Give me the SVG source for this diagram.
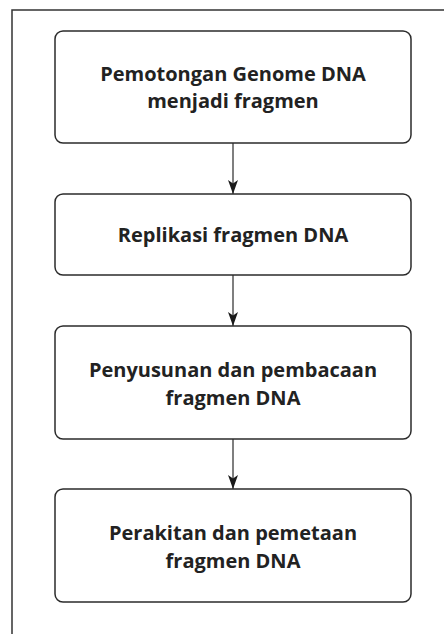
<svg xmlns="http://www.w3.org/2000/svg" width="444" height="634" viewBox="0 0 444 634">
  <style>
    .box { fill: #ffffff; stroke: #2b2b2b; stroke-width: 1.5; }
    .lbl { font-family: "Open Sans", "Liberation Sans", sans-serif; font-weight: bold; font-size: 20px; fill: #222222; text-anchor: middle; }
    .conn { stroke: #555555; stroke-width: 1.5; fill: none; marker-end: url(#arr); }
  </style>
  <defs>
    <marker id="arr" viewBox="0 0 14 10" refX="14" refY="5" markerWidth="14" markerHeight="10" markerUnits="userSpaceOnUse" orient="auto">
      <path d="M0,0 L14,5 L0,10 L3.5,5 Z" fill="#1a1a1a"/>
    </marker>
  </defs>
  <rect x="0" y="0" width="444" height="634" fill="#ffffff"/>
  <rect x="12" y="10" width="440" height="630" fill="none" stroke="#333333" stroke-width="1.5"/>
  <g id="connectors">
    <line class="conn" x1="233" y1="143" x2="233" y2="194"/>
    <line class="conn" x1="233" y1="275" x2="233" y2="326"/>
    <line class="conn" x1="233" y1="439" x2="233" y2="489"/>
  </g>
  <g id="node1">
    <rect class="box" x="55" y="31" width="356" height="112" rx="8"/>
    <text class="lbl" x="233" y="81">Pemotongan Genome DNA</text>
    <text class="lbl" x="233" y="108">menjadi fragmen</text>
  </g>
  <g id="node2">
    <rect class="box" x="55" y="194" width="356" height="81" rx="8"/>
    <text class="lbl" x="233" y="242">Replikasi fragmen DNA</text>
  </g>
  <g id="node3">
    <rect class="box" x="55" y="326" width="356" height="113" rx="8"/>
    <text class="lbl" x="233" y="377">Penyusunan dan pembacaan</text>
    <text class="lbl" x="233" y="405">fragmen DNA</text>
  </g>
  <g id="node4">
    <rect class="box" x="55" y="489" width="356" height="113" rx="8"/>
    <text class="lbl" x="233" y="540">Perakitan dan pemetaan</text>
    <text class="lbl" x="233" y="568">fragmen DNA</text>
  </g>
</svg>
